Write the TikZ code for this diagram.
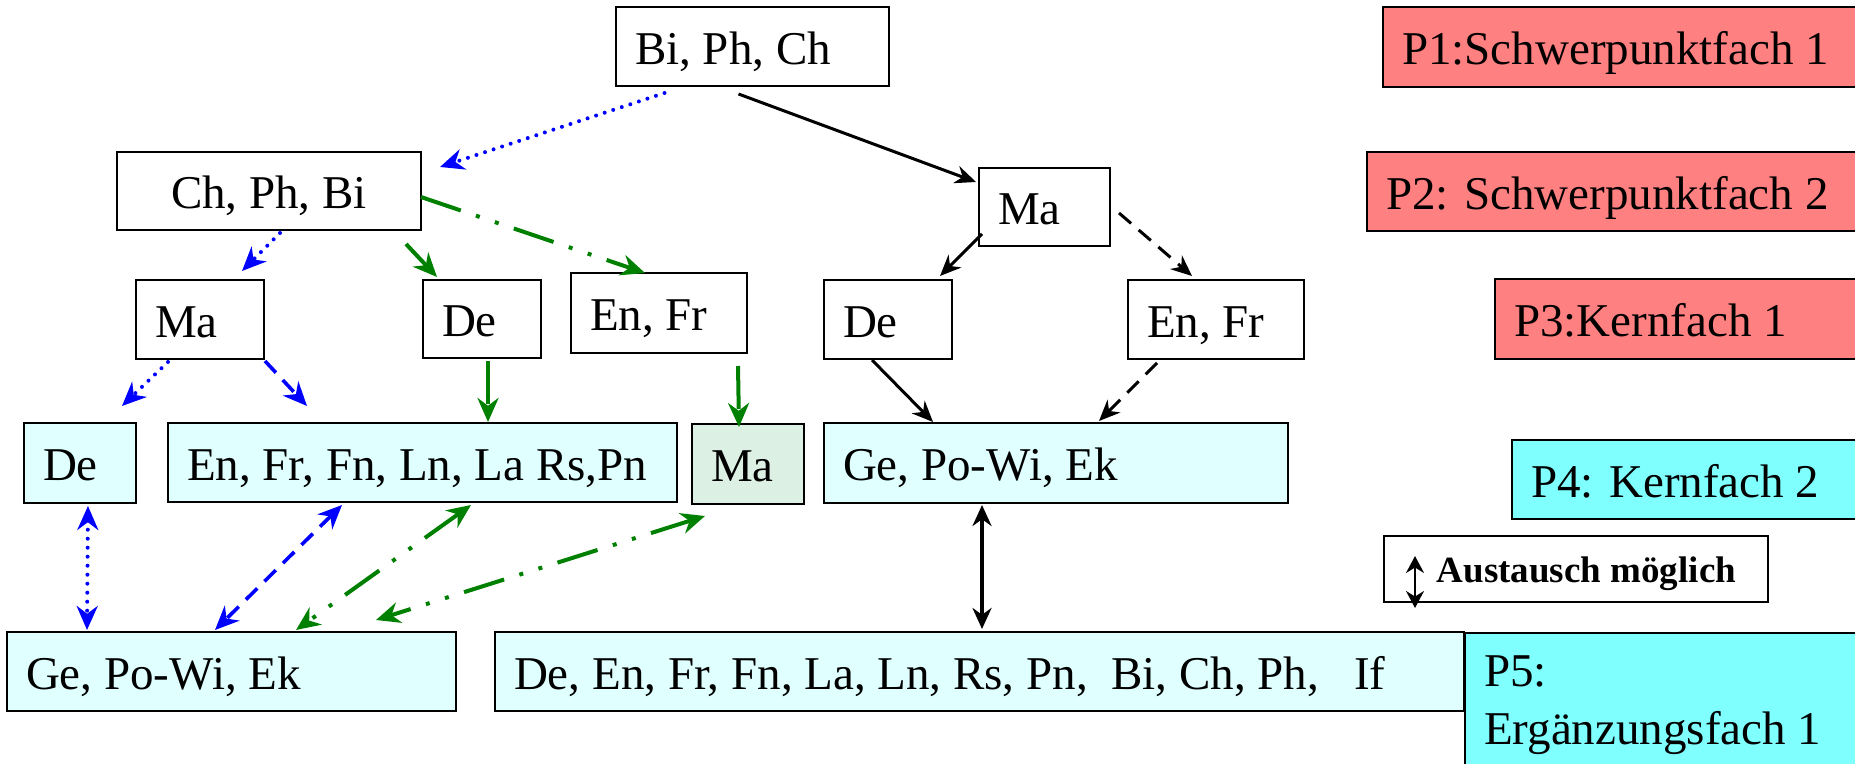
\documentclass[tikz,border=0pt]{standalone}
\usepackage{fontspec}
\setmainfont{Liberation Serif}
\usepackage{xcolor}
\usepackage{tikz}
\usetikzlibrary{arrows.meta}
\usetikzlibrary{calc}
\usetikzlibrary{positioning}

\definecolor{rosa}{RGB}{255,128,128}
\definecolor{tuerkis}{RGB}{128,255,255}
\definecolor{hellcyan}{RGB}{224,255,255}
\definecolor{hellgruen}{RGB}{220,240,228}
\definecolor{gruen}{RGB}{0,128,0}

\begin{document}
\begin{tikzpicture}[x=0.5pt,y=-0.5pt]
	\tikzstyle{kasten}=[draw, line width=1pt, inner xsep=9.5pt, inner ysep=0pt, align=flush left, font=\fontsize{23.5}{29}\selectfont]
	\tikzstyle{zeile}=[kasten, text height=20pt, text depth=2.4pt]
	\tikzstyle{hin}=[-{Stealth[length=12pt,width=10.5pt]}]
	\tikzstyle{hinher}=[{Stealth[length=12pt,width=10.5pt]}-{Stealth[length=12pt,width=10.5pt]}]
	\tikzstyle{blaupunkt}=[draw=blue, line width=2pt, line cap=round, dash pattern=on 0pt off 4.5pt]
	\tikzstyle{blaustrich}=[draw=blue, line width=1.8pt, dash pattern=on 8pt off 5pt]
	\tikzstyle{gruenlinie}=[draw=gruen, line width=2pt]
	\tikzstyle{gruenstrich}=[gruenlinie, dash pattern=on 21.5pt off 10pt]
	\tikzstyle{gruenpunkt}=[gruenlinie, dash pattern=on 21pt off 8pt on 2pt off 8pt on 2pt off 8pt]
	\tikzstyle{schwarz}=[draw=black, line width=1.5pt, -{Stealth[length=10.5pt,width=9pt]}]
	\tikzstyle{schwarzstrich}=[schwarz, dash pattern=on 8pt off 5pt]

	\useasboundingbox (0,0) rectangle (1855,764);

	% obere Reihen
	\node[zeile, text width=117.5pt, minimum height=39.5pt] (bpc) at (752.5,46.5) {Bi, Ph, Ch};
	\node[zeile, text width=133pt, align=flush center, minimum height=39pt] (cpb) at (269,191) {Ch, Ph, Bi};
	\node[zeile, text width=46.5pt, minimum height=39pt] (maR) at (1044.5,207) {Ma};
	\node[zeile, text width=45pt, minimum height=39.5pt] (maL) at (200,319.5) {Ma};
	\node[zeile, text width=40pt, minimum height=39pt] (deL) at (482,319) {De};
	\node[zeile, text width=69pt, minimum height=40pt] (enfrL) at (659,313) {En, Fr};
	\node[zeile, text width=45pt, minimum height=39.5pt] (deR) at (888,319.5) {De};
	\node[zeile, text width=69pt, minimum height=39.5pt] (enfrR) at (1216,319.5) {En, Fr};

	% Pruefungsfaecher
	\node[zeile, fill=rosa, text width=224.5pt, minimum height=40pt] (p1) at (1626.5,47) {P1:Schwerpunktfach 1};
	\node[zeile, fill=rosa, text width=232.5pt, minimum height=39.5pt] (p2) at (1618.5,191.5) {P2: Schwerpunktfach 2};
	\node[zeile, fill=rosa, text width=168.5pt, minimum height=40pt] (p3) at (1682.5,319) {P3:Kernfach 1};
	\node[zeile, fill=tuerkis, text width=160pt, minimum height=39.5pt] (p4) at (1691,479.5) {P4: Kernfach 2};

	% P4-Reihe
	\node[zeile, fill=hellcyan, text width=37pt, minimum height=40pt] (de4) at (80,463) {De};
	\node[zeile, fill=hellcyan, text width=235.5pt, minimum height=39.5pt] (sprachen) at (422.5,462.5) {\mbox{En, Fr, Fn, Ln, La Rs,Pn}};
	\node[zeile, fill=hellgruen, text width=37pt, minimum height=40pt] (ma4) at (748,464) {Ma};
	\node[zeile, fill=hellcyan, text width=213pt, minimum height=40pt] (gesR) at (1056,463) {Ge, Po-Wi, Ek};

	% P5-Reihe
	\node[zeile, fill=hellcyan, text width=205.5pt, minimum height=39.5pt] (gesL) at (231.5,671.5) {Ge, Po-Wi, Ek};
	\node[zeile, fill=hellcyan, text width=465.5pt, minimum height=39.5pt] (ergaenz) at (979.5,671.5) {\mbox{De, En, Fr, Fn, La, Ln, Rs, Pn,\ \ Bi, Ch, Ph,\ \ \ If}};
	\node[kasten, fill=tuerkis, anchor=north west, text width=184pt, inner ysep=11.6pt] (p5) at (1464,632) {P5:\\Ergänzungsfach 1};

	% Legende
	\node[draw, line width=1pt, inner sep=0pt, minimum width=192pt, minimum height=33pt, text width=160pt, align=flush right, text height=15.7pt, text depth=1.9pt, font=\bfseries\fontsize{18.5}{22}\selectfont] (legende) at (1576,569) {Austausch möglich};
	\draw[line width=1pt, {Stealth[length=8.5pt,width=9pt]}-{Stealth[length=8.5pt,width=9pt]}] ($(legende.west)+(32,-13)$) -- ($(legende.west)+(32,39)$);

	% Pfeile
	\path ($(bpc.south)+(-88,6)$) edge[blaupunkt, hin] ($(cpb.north east)+(18,16)$)
		($(bpc.south)+(-14,7)$) edge[schwarz] ($(maR.north west)+(-2,15)$)
		($(cpb.south)+(11,2)$) edge[blaupunkt, hin] ($(maL.north)+(42,-8)$)
		($(cpb.south east)+(-16,13)$) edge[gruenlinie, hin] ($(deL.north west)+(15,-2)$)
		($(cpb.east)+(-1,6)$) edge[gruenpunkt, hin] ($(enfrL.north)+(-14,1)$)
		($(maR.south west)+(4,-13)$) edge[schwarz] ($(deR.north east)+(-13,-3)$)
		($(maR.east)+(8,6)$) edge[schwarzstrich] ($(enfrR.north)+(-24,-3)$)
		($(maL.south)+(-32,2)$) edge[blaupunkt, hin] ($(de4.north)+(42,-16)$)
		($(maL.south east)+(0,1)$) edge[blaustrich, hin] ($(sprachen.north west)+(140,-16)$)
		($(deL.south)+(6,2)$) edge[gruenstrich, hin] ($(sprachen.north)+(65.5,0)$)
		($(enfrL.south)+(79,12)$) edge[gruenstrich, hin] ($(ma4.north)+(-9,4)$)
		($(deR.south)+(-16,0)$) edge[schwarz] ($(gesR.north west)+(110,0)$)
		($(enfrR.south)+(-59,3)$) edge[schwarzstrich] ($(gesR.north east)+(-190,-1)$);
	\path ($(de4.south)+(8,2)$) edge[blaupunkt, hinher] ($(gesL.north west)+(81,-1)$)
		($(sprachen.south west)+(175,2)$) edge[blaustrich, hinher] ($(gesL.north west)+(209,-1)$)
		($(sprachen.south west)+(304,2)$) edge[gruenpunkt, hinher] ($(gesL.north west)+(290,-1)$)
		($(ma4.south west)+(14,11)$) edge[gruenpunkt, hinher] ($(gesL.north west)+(370,-11)$)
		($(gesR.south west)+(159,1)$) edge[schwarz, line width=2pt, {Stealth[length=10.5pt,width=9.5pt]}-{Stealth[length=10.5pt,width=9.5pt]}] ($(ergaenz.north west)+(488,-2)$);
\end{tikzpicture}
\end{document}
